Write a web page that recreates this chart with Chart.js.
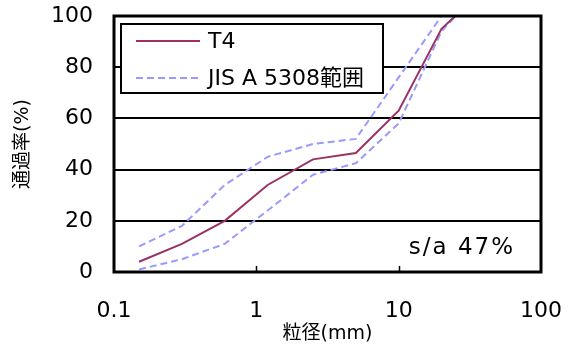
<!DOCTYPE html>
<html>
<head>
<meta charset="utf-8">
<script src="https://cdn.jsdelivr.net/npm/chart.js@4/dist/chart.umd.min.js"></script>
<style>
  html, body { margin: 0; padding: 0; background: #fff; }
  #wrap { width: 573px; height: 345px; }
</style>
</head>
<body>
<div id="wrap"><canvas id="c"></canvas></div>
<script>
// sieve sizes (mm) and passing percentages
const sieveSizes = [0.15, 0.3, 0.6, 1.2, 2.5, 5, 10, 20, 25];
const t4Values   = [4, 11, 20, 34, 44, 46.5, 63, 95, 100];
const jisUpper   = [10, 18, 34, 45, 50, 52, 76, 100, 100];
const jisLower   = [1, 5, 11, 24, 38, 42.5, 58, 94, 100];
const xTicks = [0.1, 1, 10, 100];
const yTicks = [0, 20, 40, 60, 80, 100];

const FONT = '"DejaVu Sans", "Noto Sans CJK JP", sans-serif';

const toPoints = vals => sieveSizes.map((s, i) => ({ x: s, y: vals[i] }));

// frame, inward ticks, legend box and the s/a note
const extras = {
    id: 'extras',
    afterDraw(chart) {
        const ctx = chart.ctx;
        const a = chart.chartArea;
        const xs = chart.scales.x;
        ctx.save();
        ctx.strokeStyle = '#000';
        ctx.lineWidth = 1.5;
        [1, 10].forEach(v => {
            const px = Math.round(xs.getPixelForValue(v)) + 0.5;
            ctx.beginPath();
            ctx.moveTo(px, a.bottom);
            ctx.lineTo(px, a.bottom - 6);
            ctx.stroke();
        });
        ctx.lineWidth = 3;
        ctx.strokeRect(a.left, a.top, a.right - a.left, a.bottom - a.top);

        // legend
        const ds = chart.data.datasets;
        ctx.fillStyle = '#fff';
        ctx.fillRect(121, 24, 262, 69);
        ctx.lineWidth = 2;
        ctx.strokeRect(121, 24, 262, 69);
        [[ds[0], 41], [ds[1], 78]].forEach(([d, y]) => {
            ctx.strokeStyle = d.borderColor;
            ctx.lineWidth = d.borderWidth;
            ctx.setLineDash(d.borderDash || []);
            ctx.beginPath();
            ctx.moveTo(136, y);
            ctx.lineTo(200, y);
            ctx.stroke();
            ctx.setLineDash([]);
            ctx.fillStyle = '#000';
            ctx.font = '22px ' + FONT;
            ctx.textBaseline = 'middle';
            ctx.fillText(d.label, 208, y + 1);
        });

        ctx.font = '23px ' + FONT;
        ctx.letterSpacing = '2px';
        ctx.textAlign = 'right';
        ctx.textBaseline = 'alphabetic';
        ctx.fillText('s/a 47%', 515, 254);
        ctx.restore();
    }
};

new Chart(document.getElementById('c'), {
    type: 'line',
    data: {
        datasets: [
            { label: 'T4', data: toPoints(t4Values), borderColor: '#993366', borderWidth: 2, pointRadius: 0, tension: 0 },
            { label: 'JIS A 5308範囲', data: toPoints(jisUpper), borderColor: '#9999ff', borderWidth: 2, borderDash: [7, 4], pointRadius: 0, tension: 0 },
            { label: 'JIS lower', data: toPoints(jisLower), borderColor: '#9999ff', borderWidth: 2, borderDash: [7, 4], pointRadius: 0, tension: 0 }
        ]
    },
    options: {
        responsive: true,
        maintainAspectRatio: false,
        animation: false,
        layout: { padding: { top: 16, right: 32, left: 0, bottom: 0 } },
        plugins: { legend: { display: false }, tooltip: { enabled: false } },
        scales: {
            x: {
                type: 'logarithmic',
                min: 0.1, max: 100,
                afterBuildTicks: s => { s.ticks = xTicks.map(v => ({ value: v })); },
                afterFit: s => { s.height = 73; s.paddingLeft = 0; s.paddingRight = 0; },
                grid: { display: false, drawTicks: false },
                border: { display: false },
                ticks: {
                    color: '#000', padding: 26, maxRotation: 0, autoSkip: false,
                    font: { family: FONT, size: 22 },
                    callback: v => String(v)
                },
                title: { display: true, text: '粒径(mm)', color: '#000', padding: { top: 0, bottom: 0 }, font: { family: FONT, size: 19 } }
            },
            y: {
                min: 0, max: 100,
                afterBuildTicks: s => { s.ticks = yTicks.map(v => ({ value: v })); },
                afterFit: s => { s.width = 114; s.paddingTop = 0; s.paddingBottom = 0; },
                grid: { color: '#000', lineWidth: 2, drawTicks: false },
                border: { display: false },
                ticks: { color: '#000', padding: 21, font: { family: FONT, size: 22 } },
                title: { display: true, text: '通過率(%)', color: '#000', padding: { top: 12, bottom: 0 }, font: { family: FONT, size: 19 } }
            }
        }
    },
    plugins: [extras]
});
</script>
</body>
</html>
